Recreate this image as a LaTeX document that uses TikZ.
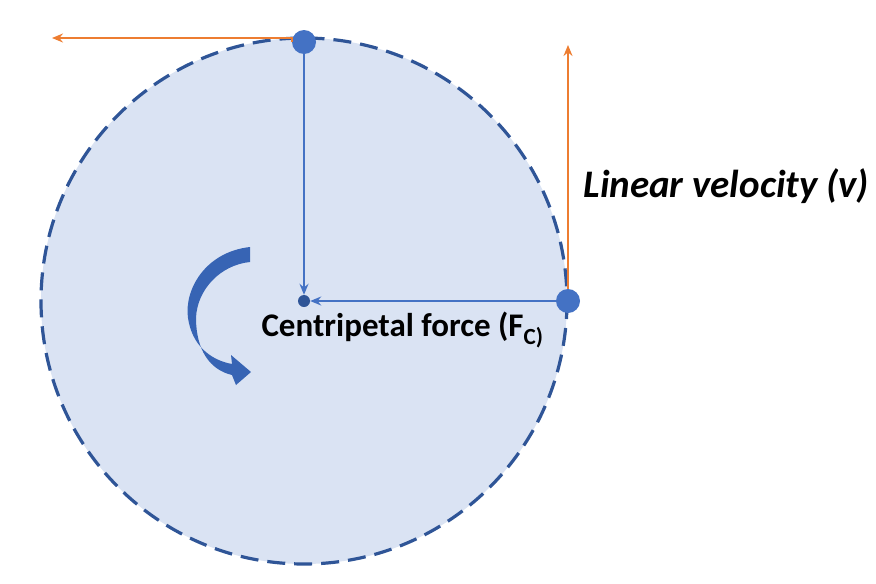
\documentclass[tikz,border=0pt]{standalone}
\usepackage{fontspec}
\setmainfont{Carlito}
\usetikzlibrary{arrows.meta}
\definecolor{fillb}{HTML}{DAE3F3}
\definecolor{dashb}{HTML}{2F5597}
\definecolor{dotb}{HTML}{4472C4}
\definecolor{orng}{HTML}{ED7D31}
\definecolor{curvb}{HTML}{3764B4}
\begin{document}
\begin{tikzpicture}[x=1pt,y=-1pt,
  dot/.style={circle,fill=dotb,inner sep=0pt,minimum size=24pt},
  vel/.style={orng,line width=1.6pt,-{Stealth[length=11pt,width=9pt]}},
  frc/.style={dotb,line width=1.6pt,-{Stealth[length=11pt,width=9pt]}}]
\useasboundingbox (0,0) rectangle (876,584);
\fill[fillb] (304,301) circle (263);
\draw[dashb,line width=3.2pt,dash pattern=on 18pt off 9pt] (304,301) circle (263);
\node[dot] (top) at (304,42) {};
\node[dot] (right) at (568,301) {};
\node[circle,fill=dashb,inner sep=0pt,minimum size=12pt] (c) at (304,301) {};
\coordinate (vl) at (52,38);
\coordinate (vu) at (568,45);
\draw[vel] (top.west) -- (top.west |- vl) -- (vl);
\draw[vel] (right.north) -- (vu);
\draw[frc] (top.south) -- (c.north);
\draw[frc] (right.west) -- (c.east);
\fill[curvb] (250,247) .. controls (205,252) and (184,290) .. (188,318)
  .. controls (192,345) and (210,360) .. (232,364)
  -- (231,355) -- (251,372) -- (236,385) -- (232,375)
  .. controls (210,370) and (196,350) .. (196,318)
  .. controls (197,290) and (220,265) .. (250,262) -- cycle;
\node[font=\bfseries\itshape\fontsize{39}{44}\selectfont,anchor=west] (lv) at (580,186) {Linear velocity (v)};
\node[font=\bfseries\fontsize{33}{38}\selectfont,anchor=west] (cf) at (258,330) {Centripetal force (F\textsubscript{C)}};
\end{tikzpicture}
\end{document}
